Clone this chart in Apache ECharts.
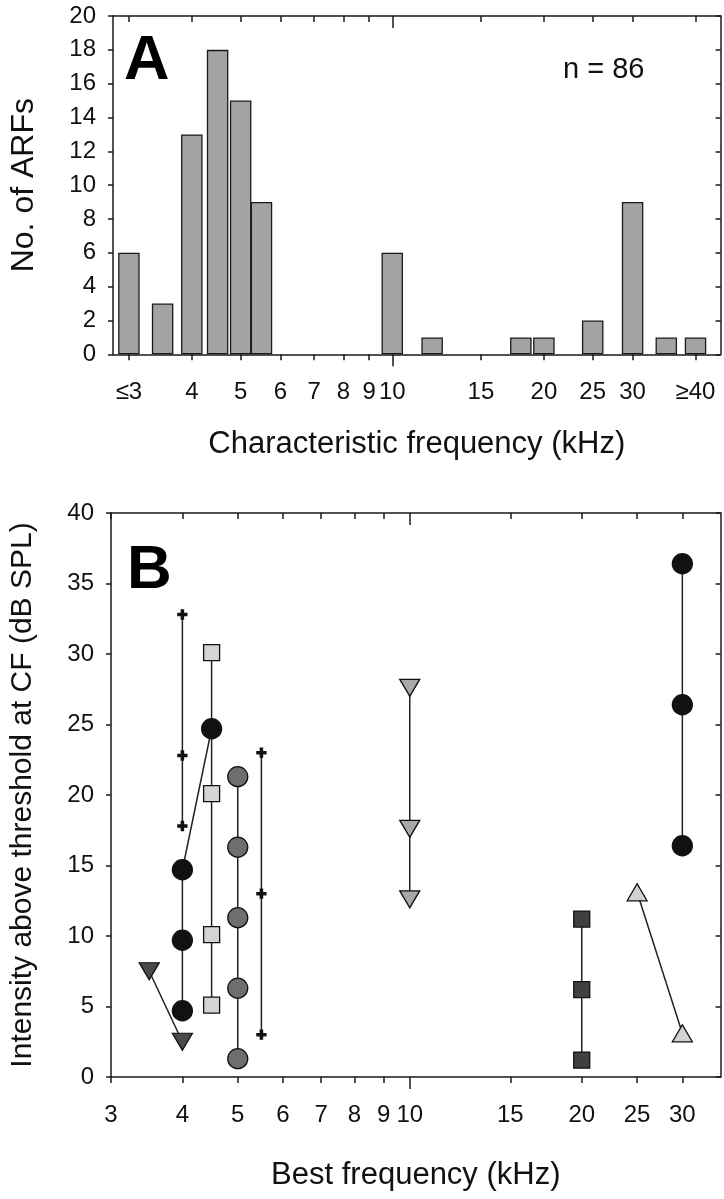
<!DOCTYPE html>
<html><head><meta charset="utf-8">
<script src="https://cdn.jsdelivr.net/npm/echarts@6/dist/echarts.min.js"></script>
<style>html,body{margin:0;padding:0;background:#fff}#c{width:724px;height:1199px}</style>
</head><body><div id="c"></div>
<script>
// ---------- Panel A: histogram of characteristic frequency ----------
const cfFreqs  = [3, 3.5, 4, 4.5, 5, 5.5, 10, 12, 18, 20, 25, 30, 35, 40];
const cfCounts = [6, 3, 13, 18, 15, 9, 6, 1, 1, 1, 2, 9, 1, 1];
const ticksA      = [3, 4, 5, 6, 7, 8, 9, 10, 15, 20, 25, 30, 40];
const tickLabelsA = ['≤3', '4', '5', '6', '7', '8', '9', '10', '15', '20', '25', '30', '≥40'];
const yTicksA = [0, 2, 4, 6, 8, 10, 12, 14, 16, 18, 20];

// ---------- Panel B: intensity vs best frequency ----------
const ticksB      = [3, 4, 5, 6, 7, 8, 9, 10, 15, 20, 25, 30];
const tickLabelsB = ['3', '4', '5', '6', '7', '8', '9', '10', '15', '20', '25', '30'];
const yTicksB = [0, 5, 10, 15, 20, 25, 30, 35, 40];

const crossA_freq = [4, 4, 4];          const crossA_level = [17.8, 22.8, 32.8];
const crossB_freq = [5.5, 5.5, 5.5];    const crossB_level = [3, 13, 23];
const blackCirc_freq = [4, 4, 4, 4.5];  const blackCirc_level = [4.7, 9.7, 14.7, 24.7];
const lightSq_freq = [4.5, 4.5, 4.5, 4.5]; const lightSq_level = [5.1, 10.1, 20.1, 30.1];
const grayCirc_freq = [5, 5, 5, 5, 5];  const grayCirc_level = [1.3, 6.3, 11.3, 16.3, 21.3];
const darkTriDown_freq = [3.5, 4];      const darkTriDown_level = [7.5, 2.5];
const grayTriDown_freq = [10, 10, 10];  const grayTriDown_level = [12.6, 17.6, 27.6];
const darkSq_freq = [20, 20, 20];       const darkSq_level = [1.2, 6.2, 11.2];
const lightTriUp_freq = [25, 30];       const lightTriUp_level = [13.1, 3.1];
const black30_freq = [30, 30, 30];      const black30_level = [16.4, 26.4, 36.4];

const L = Math.log10;
const pts = (f, v) => f.map((x, i) => [L(x), v[i]]);
const FONT = 'Liberation Sans';
const INK = '#1a1a1a';

function labelFmt(ticks, labels) {
  return v => { const i = ticks.findIndex(t => Math.abs(L(t) - v) < 1e-6); return i >= 0 ? labels[i] : ''; };
}

function xAxes(gridIndex, min, max, ticks, labels, name, nameGap) {
  const base = { type: 'value', gridIndex, min, max, splitLine: { show: false } };
  const tv = ticks.map(L);
  return [
    Object.assign({}, base, {
      position: 'bottom',
      axisLine: { show: true, lineStyle: { color: INK, width: 1.5 } },
      axisTick: { show: true, customValues: tv, length: 6, lineStyle: { color: INK, width: 1.5 } },
      axisLabel: { customValues: tv, formatter: labelFmt(ticks, labels), margin: 26,
                   color: '#111', fontFamily: FONT, fontSize: 24 },
      name, nameLocation: 'middle', nameGap,
      nameTextStyle: { fontFamily: FONT, fontSize: 31, color: '#111', verticalAlign: 'middle' }
    }),
    Object.assign({}, base, {
      position: 'bottom', axisLine: { show: false }, axisLabel: { show: false },
      axisTick: { show: true, customValues: [L(10)], length: 12, lineStyle: { color: INK, width: 1.5 } }
    }),
    Object.assign({}, base, {
      position: 'top', axisLabel: { show: false },
      axisLine: { show: true, lineStyle: { color: INK, width: 1.5 } },
      axisTick: { show: true, inside: true, customValues: tv, length: 6, lineStyle: { color: INK, width: 1.5 } }
    }),
    Object.assign({}, base, {
      position: 'top', axisLine: { show: false }, axisLabel: { show: false },
      axisTick: { show: true, inside: true, customValues: [L(10)], length: 12, lineStyle: { color: INK, width: 1.5 } }
    })
  ];
}

function yAxes(gridIndex, max, interval, name, nameGap, nameSize) {
  return [
    { type: 'value', gridIndex, min: 0, max, interval, position: 'left',
      splitLine: { show: false },
      axisLine: { show: true, lineStyle: { color: INK, width: 1.5 } },
      axisTick: { show: true, length: 5, lineStyle: { color: INK, width: 1.5 } },
      axisLabel: { margin: 17, color: '#111', fontFamily: FONT, fontSize: 24 },
      name, nameLocation: 'middle', nameGap,
      nameTextStyle: { fontFamily: FONT, fontSize: nameSize, color: '#111', verticalAlign: 'middle' } },
    { type: 'value', gridIndex, min: 0, max, interval, position: 'right',
      splitLine: { show: false }, axisLabel: { show: false },
      axisLine: { show: true, lineStyle: { color: INK, width: 1.5 } },
      axisTick: { show: true, inside: true, length: 5, lineStyle: { color: INK, width: 1.5 } } }
  ];
}

const minA = L(3) - 16 / 507, maxA = L(3) + 595.6 / 507;
const minB = L(3), maxB = L(35);

const xAxisList = [].concat(
  xAxes(0, minA, maxA, ticksA, tickLabelsA, 'Characteristic frequency (kHz)', 90),
  xAxes(1, minB, maxB, ticksB, tickLabelsB, 'Best frequency (kHz)', 98)
);
const yAxisList = [].concat(
  yAxes(0, 20, 2, 'No. of ARFs', 89, 32),
  yAxes(1, 40, 5, 'Intensity above threshold at CF (dB SPL)', 88, 30)
);

function grp(f, v, symbol, size, fill, rotate) {
  return {
    type: 'line', xAxisIndex: 4, yAxisIndex: 2, data: pts(f, v),
    symbol, symbolSize: size, symbolRotate: rotate || 0, showSymbol: true,
    lineStyle: { color: '#222', width: 1.5 },
    itemStyle: { color: fill, borderColor: '#111', borderWidth: 1.3, opacity: 1 },
    emphasis: { disabled: true }, z: 3
  };
}
const PLUS = 'path://M-1,-4H1V-1H4V1H1V4H-1V1H-4V-1H-1Z';

const option = {
  animation: false,
  backgroundColor: '#fff',
  grid: [
    { left: 109, top: 16, width: 611.6, height: 338.3 },
    { left: 110, top: 513, width: 610.6, height: 564 }
  ],
  xAxis: xAxisList,
  yAxis: yAxisList,
  graphic: [
    { type: 'text', left: 124, top: 30, style: { text: 'A', font: 'bold 63px "Liberation Sans"', fill: '#000' } },
    { type: 'text', left: 563, top: 55, style: { text: 'n = 86', font: '29px "Liberation Sans"', fill: '#111' } },
    { type: 'text', left: 127, top: 540, style: { text: 'B', font: 'bold 62px "Liberation Sans"', fill: '#000' } }
  ],
  series: [
    { type: 'bar', xAxisIndex: 0, yAxisIndex: 0, data: pts(cfFreqs, cfCounts), barWidth: 21.5,
      itemStyle: { color: '#a3a3a3', borderColor: '#1a1a1a', borderWidth: 1.3 },
      emphasis: { disabled: true } },
    grp(crossA_freq, crossA_level, PLUS, 9, '#111'),
    grp(crossB_freq, crossB_level, PLUS, 9, '#111'),
    grp(darkTriDown_freq, darkTriDown_level, 'triangle', [20, 17], '#4a4a4a', 180),
    grp(lightSq_freq, lightSq_level, 'rect', 16, '#d4d4d4'),
    grp(blackCirc_freq, blackCirc_level, 'circle', 20, '#111'),
    grp(grayCirc_freq, grayCirc_level, 'circle', 20, '#6e6e6e'),
    grp(grayTriDown_freq, grayTriDown_level, 'triangle', [20, 17], '#a8a8a8', 180),
    grp(darkSq_freq, darkSq_level, 'rect', 16, '#404040'),
    grp(lightTriUp_freq, lightTriUp_level, 'triangle', [20, 17], '#d2d2d2'),
    grp(black30_freq, black30_level, 'circle', 20, '#111')
  ]
};
const chart = echarts.init(document.getElementById('c'), null, { renderer: 'canvas' });
chart.setOption(option);
</script></body></html>
